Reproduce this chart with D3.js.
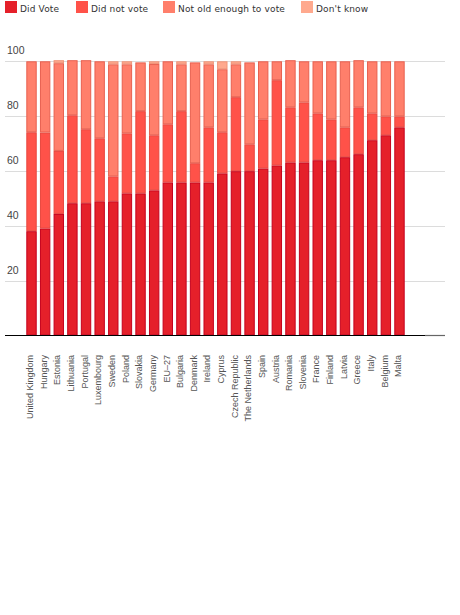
<!DOCTYPE html>
<html>
<head>
<meta charset="utf-8">
<script src="https://cdn.jsdelivr.net/npm/d3@7"></script>
<style>
    body { margin: 0; background: #fff; }
    svg { display: block; }
</style>
</head>
<body>
<div id="chart"></div>
<script>
const countries = ["United Kingdom", "Hungary", "Estonia", "Lithuania", "Portugal", "Luxembourg", "Sweden",
    "Poland", "Slovakia", "Germany", "EU\u201327", "Bulgaria", "Denmark", "Ireland", "Cyprus", "Czech Republic",
    "The Netherlands", "Spain", "Austria", "Romania", "Slovenia", "France", "Finland", "Latvia", "Greece",
    "Italy", "Belgium", "Malta"];
const didVote = [38, 39, 44.3, 48.2, 48.2, 48.9, 48.9, 51.8, 51.8, 52.9, 55.8, 55.8, 55.8, 55.8, 59.1, 59.9,
    59.9, 60.9, 62, 63.1, 63.1, 63.9, 63.9, 65, 66.1, 71.2, 73, 75.9];
const didNotVote = [36.1, 35, 23, 32.1, 27, 23, 9.1, 21.9, 30, 20.1, 21.2, 26, 7, 20.1, 15, 27, 9.8, 17.9,
    31.1, 20.1, 21.9, 17.1, 14.9, 10.9, 17.1, 9.8, 6.9, 4];
const notOldEnough = [25.9, 26, 32, 20.1, 25.2, 28.1, 40.9, 25.2, 17.8, 26, 23, 17.1, 36.8, 23, 23, 12, 29.9,
    21.2, 6.9, 17.2, 15, 19, 21.2, 24.1, 17.2, 19, 20.1, 20.1];
const dontKnow = [0, 0, 1.1, 0, 0, 0, 1.1, 1.1, 0, 1, 0, 1.1, 0, 1.1, 2.9, 1.1, 0, 0, 0, 0, 0, 0, 0, 0, 0, 0, 0, 0];
const seriesNames = ["Did Vote", "Did not vote", "Not old enough to vote", "Don't know"];
const yTicks = [20, 40, 60, 80, 100];

const fills = ["#e5202a", "#ff5249", "#ff7f6b", "#ffa98e"];
const strokes = ["#c5001c", "#e8463e", "#e8604f", "#f09478"];

const width = 460, height = 615;

const svg = d3.select("#chart").append("svg")
    .attr("width", width)
    .attr("height", height);

// rows for stacking
const rows = countries.map((c, i) => ({
    country: c,
    s0: didVote[i], s1: didNotVote[i], s2: notOldEnough[i], s3: dontKnow[i]
}));
const stack = d3.stack().keys(["s0", "s1", "s2", "s3"])(rows);

const x = d3.scaleBand()
    .domain(countries)
    .range([24.7, 406.3])
    .paddingInner(0.237)
    .paddingOuter(0.1185);

const y = d3.scaleLinear()
    .domain([0, 100])
    .range([335.3, 61.3]);

// grid
svg.append("g").selectAll("line")
    .data(yTicks)
    .enter().append("line")
    .attr("x1", 5).attr("x2", 445)
    .attr("y1", d => Math.round(y(d)) + 0.5)
    .attr("y2", d => Math.round(y(d)) + 0.5)
    .attr("stroke", "#dcdcdc")
    .attr("stroke-width", 1);

svg.append("g").selectAll("text")
    .data(yTicks)
    .enter().append("text")
    .attr("x", 7)
    .attr("y", d => y(d) - 7)
    .attr("font-family", "Liberation Sans, Arial, sans-serif")
    .attr("font-size", 10.5)
    .attr("fill", "#444")
    .text(d => d);

// bars
svg.append("g").selectAll("g")
    .data(stack)
    .enter().append("g")
    .attr("fill", (d, i) => fills[i])
    .attr("stroke", (d, i) => strokes[i])
    .selectAll("rect")
    .data(d => d.filter(p => p[1] - p[0] > 0))
    .enter().append("rect")
    .attr("x", d => x(d.data.country) + 0.5)
    .attr("width", x.bandwidth() - 1)
    .attr("y", d => y(d[1]) + 0.5)
    .attr("height", d => Math.max(0, y(d[0]) - y(d[1]) - 1));

// baseline
svg.append("line")
    .attr("x1", 5).attr("x2", 425)
    .attr("y1", 335.5).attr("y2", 335.5)
    .attr("stroke", "#000").attr("stroke-width", 1.2);
svg.append("line")
    .attr("x1", 425).attr("x2", 445)
    .attr("y1", 335.5).attr("y2", 335.5)
    .attr("stroke", "#666").attr("stroke-width", 1.2);

// country labels
svg.append("g").selectAll("text")
    .data(countries)
    .enter().append("text")
    .attr("transform", d => `translate(${x(d) + x.bandwidth() / 2 + 1.7},355) rotate(-90)`)
    .attr("text-anchor", "end")
    .attr("font-family", "Liberation Sans, Arial, sans-serif")
    .attr("font-size", 9)
    .attr("fill", "#555")
    .text(d => d);

// legend
const legendX = [5, 76, 163, 301];
const legend = svg.append("g").selectAll("g")
    .data(seriesNames)
    .enter().append("g")
    .attr("transform", (d, i) => `translate(${legendX[i]},1)`);
legend.append("rect")
    .attr("width", 12).attr("height", 12)
    .attr("fill", (d, i) => fills[i]);
legend.append("text")
    .attr("x", 15)
    .attr("y", 10.5)
    .attr("font-family", "DejaVu Sans, sans-serif")
    .attr("font-size", 9)
    .attr("letter-spacing", 0.15)
    .attr("fill", "#333")
    .text(d => d);
</script>
</body>
</html>
